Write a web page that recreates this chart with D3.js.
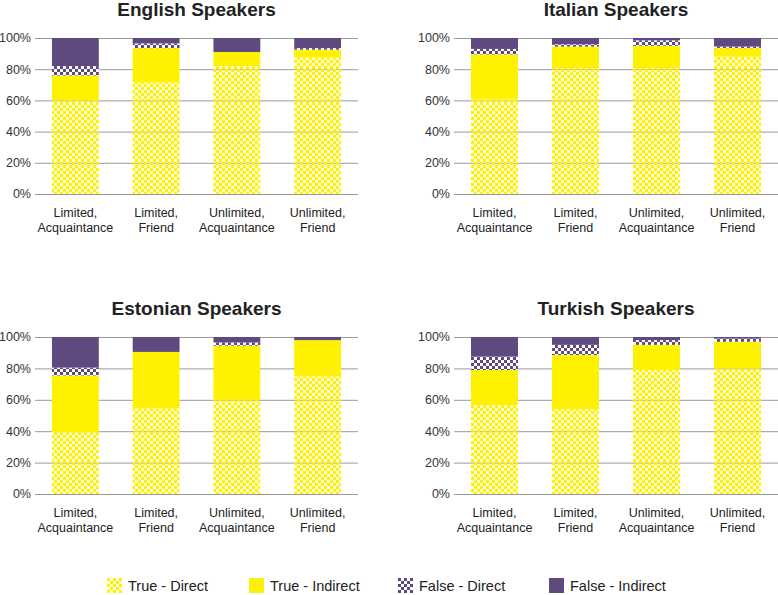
<!DOCTYPE html>
<html>
<head>
<meta charset="utf-8">
<script src="https://cdn.jsdelivr.net/npm/d3@7"></script>
<style>
  body { margin: 0; background: #fff; }
  text { font-family: "Liberation Sans", Arial, sans-serif; }
</style>
</head>
<body>
<svg></svg>
<script>
var viewWidth = 778;
var viewHeight = 595;

var categories = ["Limited,|Acquaintance", "Limited,|Friend", "Unlimited,|Acquaintance", "Unlimited,|Friend"];
var panelTitles = ["English Speakers", "Italian Speakers", "Estonian Speakers", "Turkish Speakers"];
var seriesNames = ["True - Direct", "True - Indirect", "False - Direct", "False - Indirect"];
var yTicks = [0, 20, 40, 60, 80, 100];

// segment sizes (%) per panel, one value per category
var englishTD = [60, 71.5, 82, 87.5];
var englishTI = [16, 22, 9, 5];
var englishFD = [6, 3, 0, 1];
var englishFI = [18, 3.5, 9, 6.5];

var italianTD = [60.5, 80.5, 80.5, 88];
var italianTI = [29, 14, 14.5, 5.5];
var italianFD = [3.5, 1.5, 3.5, 1];
var italianFI = [7, 4, 1.5, 5.5];

var estonianTD = [39.5, 54.5, 60, 75];
var estonianTI = [36, 36, 34.5, 23];
var estonianFD = [5, 0, 2, 0];
var estonianFI = [19.5, 9.5, 3.5, 2];

var turkishTD = [56.5, 54, 79, 80];
var turkishTI = [22.5, 34.5, 16, 17];
var turkishFD = [8.5, 6.5, 3, 2];
var turkishFI = [12.5, 5, 2, 1];

var panelData = [
  [englishTD, englishTI, englishFD, englishFI],
  [italianTD, italianTI, italianFD, italianFI],
  [estonianTD, estonianTI, estonianFD, estonianFI],
  [turkishTD, turkishTI, turkishFD, turkishFI]
];

var yellow = "#fff200";
var purple = "#5e4a7e";
var fills = ["url(#checkYellow)", yellow, "url(#checkPurple)", purple];

var svg = d3.select("svg")
  .attr("width", viewWidth)
  .attr("height", viewHeight);

// checker patterns
var defs = svg.append("defs");
function checker(id, color, bg) {
  var p = defs.append("pattern")
    .attr("id", id)
    .attr("patternUnits", "userSpaceOnUse")
    .attr("width", 6)
    .attr("height", 6);
  p.append("rect").attr("width", 6).attr("height", 6).attr("fill", bg);
  p.append("rect").attr("width", 3).attr("height", 3).attr("fill", color);
  p.append("rect").attr("x", 3).attr("y", 3).attr("width", 3).attr("height", 3).attr("fill", color);
}
checker("checkYellow", yellow, "rgba(255,245,120,0.25)");
checker("checkPurple", purple, "rgba(255,255,255,0.9)");

// panel layout
var panels = [
  {x0: 35, x1: 358, y0: 38, y1: 194},
  {x0: 454, x1: 778, y0: 38, y1: 194},
  {x0: 35, x1: 358, y0: 337, y1: 494},
  {x0: 454, x1: 778, y0: 337, y1: 494}
];

function drawPanel(i) {
  var p = panels[i];
  var g = svg.append("g");

  var xScale = d3.scaleBand()
    .domain(categories)
    .range([p.x0, p.x1])
    .paddingInner(0.42)
    .paddingOuter(0.21);
  var yScale = d3.scaleLinear()
    .domain([0, 100])
    .range([p.y1, p.y0]);

  // gridlines
  g.selectAll("line.grid")
    .data(yTicks)
    .enter()
    .append("line")
    .attr("class", "grid")
    .attr("x1", p.x0)
    .attr("x2", p.x1)
    .attr("y1", function(d){return yScale(d) + 0.5})
    .attr("y2", function(d){return yScale(d) + 0.5})
    .attr("stroke", "#9a9a9a")
    .attr("stroke-width", 1);

  // y labels
  g.selectAll("text.ylab")
    .data(yTicks)
    .enter()
    .append("text")
    .attr("x", p.x0 - 4)
    .attr("y", function(d){return yScale(d)})
    .attr("dy", "0.35em")
    .attr("text-anchor", "end")
    .attr("font-size", 12.5)
    .attr("fill", "#333")
    .text(function(d){return d + "%"});

  // stacked bars
  var rows = categories.map(function(c, j) {
    var row = {cat: c};
    seriesNames.forEach(function(s, k){ row[s] = panelData[i][k][j]; });
    return row;
  });
  var stacked = d3.stack().keys(seriesNames)(rows);

  g.selectAll("g.series")
    .data(stacked)
    .enter()
    .append("g")
    .attr("fill", function(d, k){return fills[k]})
    .selectAll("rect")
    .data(function(d){return d})
    .enter()
    .append("rect")
    .attr("x", function(d){return xScale(d.data.cat)})
    .attr("width", xScale.bandwidth())
    .attr("y", function(d){return yScale(d[1])})
    .attr("height", function(d){return yScale(d[0]) - yScale(d[1])});

  // category labels
  var lab = g.selectAll("text.xlab")
    .data(categories)
    .enter()
    .append("text")
    .attr("text-anchor", "middle")
    .attr("font-size", 12.5)
    .attr("fill", "#222")
    .attr("transform", function(d){
      return "translate(" + (xScale(d) + xScale.bandwidth() / 2) + "," + (p.y1 + 23) + ")";
    });
  lab.selectAll("tspan")
    .data(function(d){return d.split("|")})
    .enter()
    .append("tspan")
    .attr("x", 0)
    .attr("y", function(d, k){return k * 15})
    .text(function(d){return d});

  // title
  g.append("text")
    .attr("x", (p.x0 + p.x1) / 2)
    .attr("y", p.y0 - 22)
    .attr("text-anchor", "middle")
    .attr("font-size", 19)
    .attr("font-weight", "bold")
    .attr("fill", "#222")
    .text(panelTitles[i]);
}

for (var i = 0; i < panels.length; i++) drawPanel(i);

// legend
var legendX = [107, 249, 398, 549];
var legend = svg.append("g")
  .selectAll("g")
  .data(seriesNames)
  .enter()
  .append("g")
  .attr("transform", function(d, k){return "translate(" + legendX[k] + ",578)"});
legend.append("rect")
  .attr("width", 15)
  .attr("height", 15)
  .attr("fill", function(d, k){return fills[k]});
legend.append("text")
  .attr("x", 21)
  .attr("y", 8)
  .attr("dy", "0.35em")
  .attr("font-size", 14.5)
  .attr("fill", "#222")
  .text(function(d){return d});
</script>
</body>
</html>
